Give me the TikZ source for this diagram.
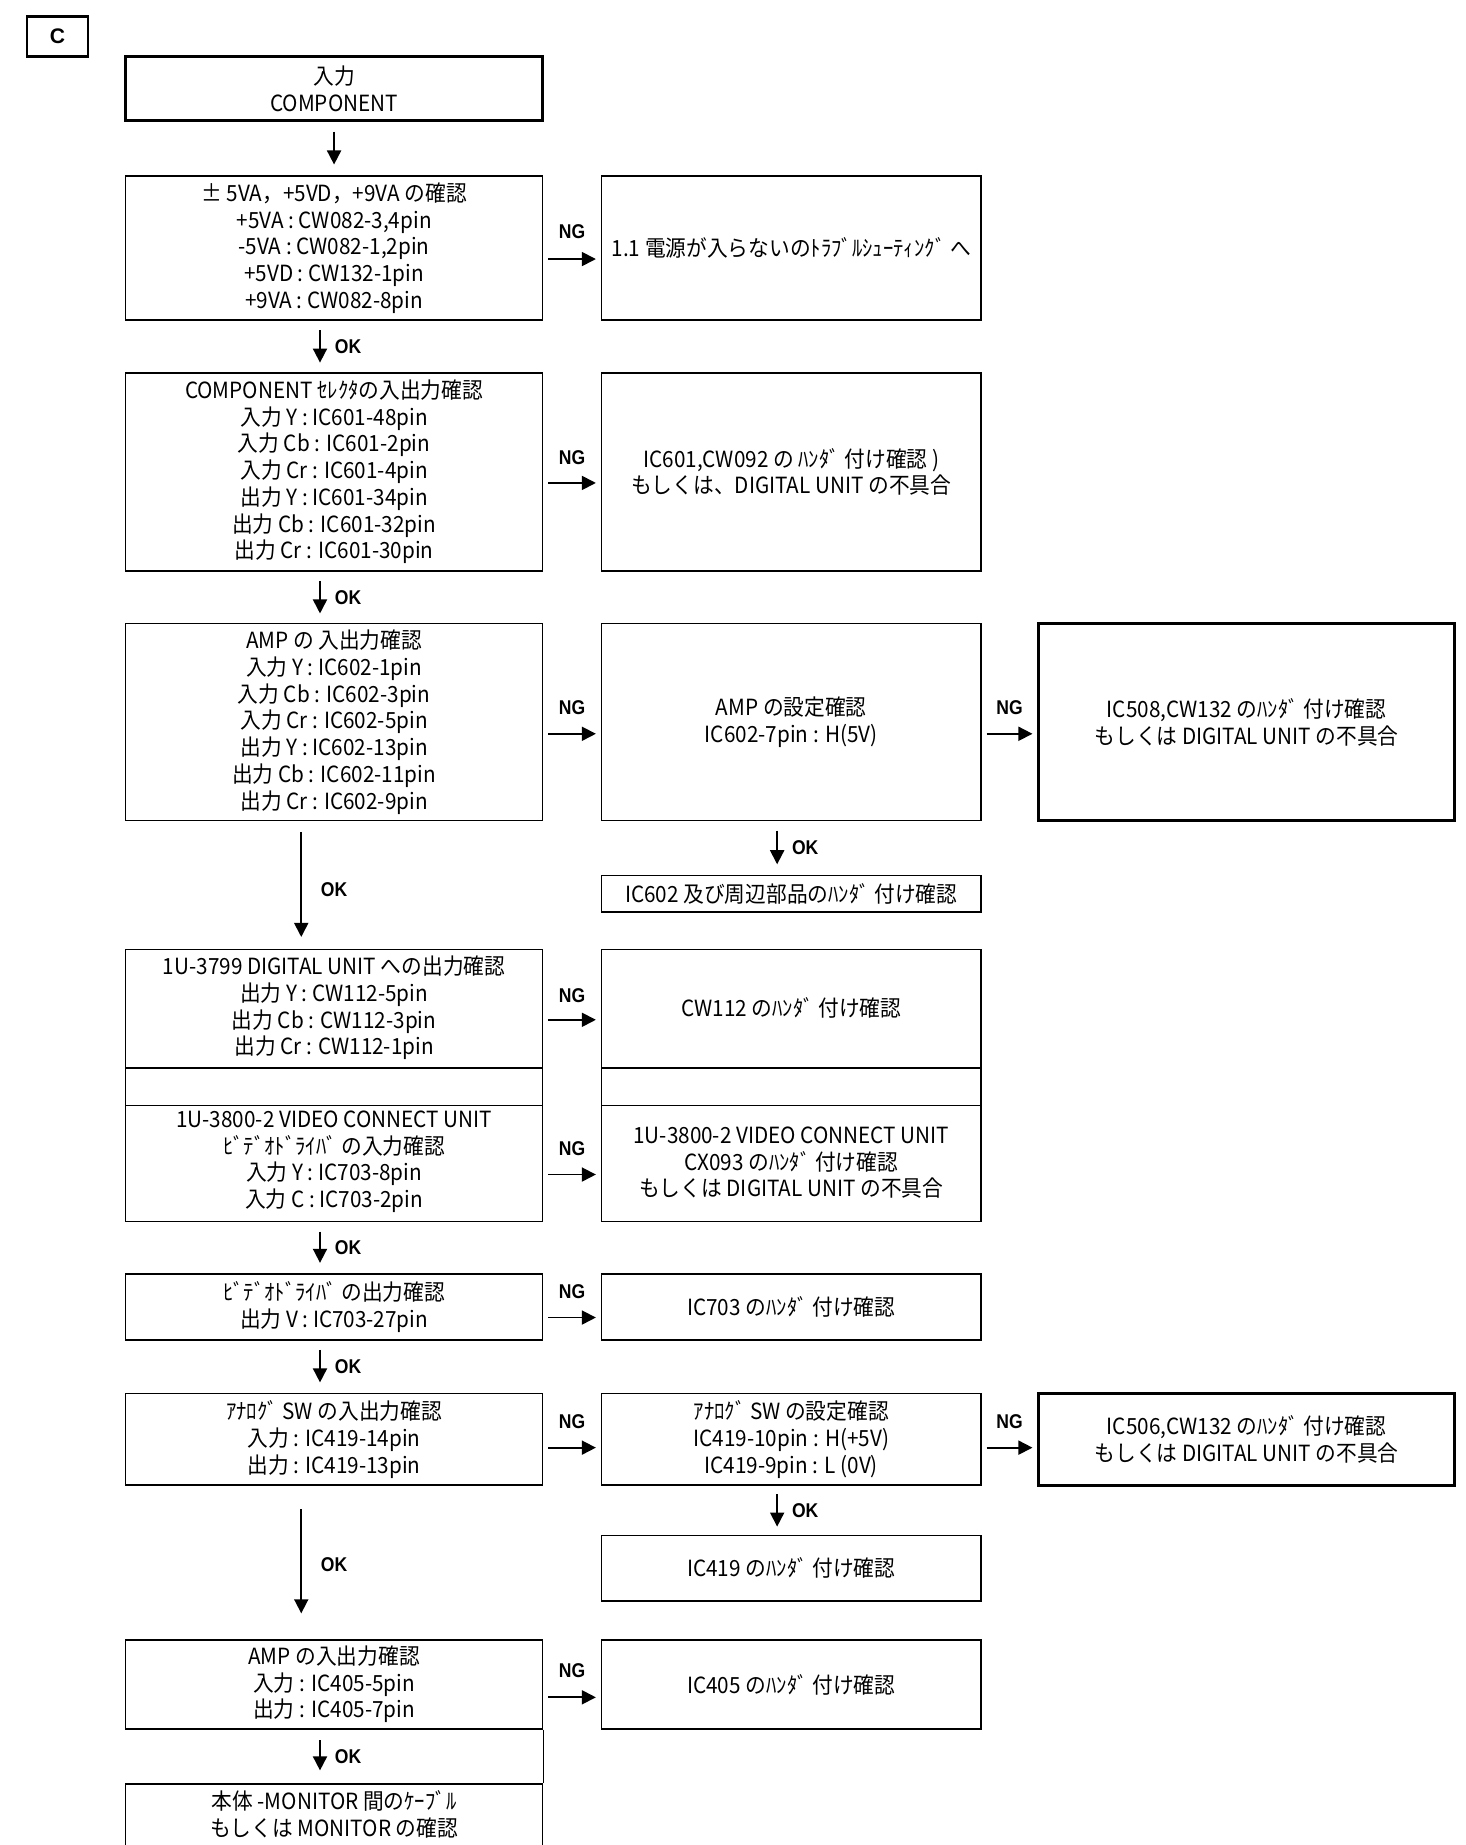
\documentclass[tikz,border=0pt]{standalone}
\usepackage{fontspec}
\setmainfont{Noto Sans CJK JP}[FakeStretch=0.93]
\newfontfamily\lblfont{Liberation Sans}[FakeStretch=0.88]
\newfontfamily\tagfont{Liberation Sans}
\usetikzlibrary{arrows.meta}
\begin{document}
\begin{tikzpicture}[x=1pt,y=-1pt,
  box/.style={draw, line width=1.3pt, inner sep=0pt, align=center, font=\fontsize{19}{22.8}\selectfont},
  thickbox/.style={box, line width=2.4pt},
  txt/.style={inner sep=0pt, align=center, font=\fontsize{19}{22.8}\selectfont},
  arr/.style={line width=1.5pt, -{Triangle[width=12pt,length=12pt]}},
  lbl/.style={font=\lblfont\bfseries\fontsize{17}{19}\selectfont, inner sep=0pt},
  lcol/.style={minimum width=356pt},
  rcol/.style={minimum width=324pt},
  fcol/.style={minimum width=355pt},
]
\useasboundingbox (0,0) rectangle (1250,1574);
\clip (0,0) rectangle (1250,1574);

% tag
\node[draw, line width=2.2pt, minimum width=52pt, minimum height=34pt, inner sep=0pt,
  font=\tagfont\bfseries\fontsize{18}{20}\selectfont] (tag) at (49,31) {C};

% left column
\node[thickbox, lcol, minimum height=55pt] (b1) at (285,75.5) {入力\\COMPONENT};
\node[box, lcol, minimum height=123pt] (b2) at (285,211.5) {± 5VA，+5VD，+9VA の確認\\+5VA : CW082-3,4pin\\-5VA : CW082-1,2pin\\+5VD : CW132-1pin\\+9VA : CW082-8pin};
\node[box, lcol, minimum height=169pt] (b3) at (285,402.5) {COMPONENT ｾﾚｸﾀの入出力確認\\入力 Y : IC601-48pin\\入力 Cb : IC601-2pin\\入力 Cr : IC601-4pin\\出力 Y : IC601-34pin\\出力 Cb : IC601-32pin\\出力 Cr : IC601-30pin};
\node[box, lcol, minimum height=168pt] (b4) at (285,616) {AMP の 入出力確認\\入力 Y : IC602-1pin\\入力 Cb : IC602-3pin\\入力 Cr : IC602-5pin\\出力 Y : IC602-13pin\\出力 Cb : IC602-11pin\\出力 Cr : IC602-9pin};
\node[box, lcol, minimum height=232pt] (b5) at (285,926) {};
\draw[line width=1.3pt] (107,911) -- (463,911) (107,943) -- (463,943);
\node[txt] (b5a) at (285,860) {1U-3799 DIGITAL UNIT への出力確認\\出力 Y : CW112-5pin\\出力 Cb : CW112-3pin\\出力 Cr : CW112-1pin};
\node[txt] (b5b) at (285,991) {1U-3800-2 VIDEO CONNECT UNIT\\ﾋﾞﾃﾞｵﾄﾞﾗｲﾊﾞ の入力確認\\入力 Y : IC703-8pin\\入力 C : IC703-2pin};
\node[box, lcol, minimum height=56pt] (b6) at (285,1115) {ﾋﾞﾃﾞｵﾄﾞﾗｲﾊﾞ の出力確認\\出力 V : IC703-27pin};
\node[box, lcol, minimum height=78pt] (b7) at (285,1228) {ｱﾅﾛｸﾞ SW の入出力確認\\入力 : IC419-14pin\\出力 : IC419-13pin};
\node[box, lcol, minimum height=76pt] (b8) at (285,1437) {AMP の入出力確認\\入力 : IC405-5pin\\出力 : IC405-7pin};
\node[box, lcol, minimum height=88pt] (b9) at (285,1566) {};
\node[txt] (b9t) at (285,1548) {本体 -MONITOR 間のｹｰﾌﾞﾙ\\もしくは MONITOR の確認};
\draw[line width=1.3pt] (b8.south east) -- (b9.north east);

% right column
\node[box, rcol, minimum height=123pt] (b2r) at (675,211.5) {1.1 電源が入らないのﾄﾗﾌﾞﾙｼｭｰﾃｨﾝｸﾞ へ};
\node[box, rcol, minimum height=169pt] (b3r) at (675,402.5) {IC601,CW092 の ﾊﾝﾀﾞ 付け確認 )\\もしくは、DIGITAL UNIT の不具合};
\node[box, rcol, minimum height=168pt] (b4r) at (675,616) {AMP の設定確認\\IC602-7pin : H(5V)};
\node[box, rcol, minimum height=31pt] (b4r2) at (675,762.5) {IC602 及び周辺部品のﾊﾝﾀﾞ 付け確認};
\node[box, rcol, minimum height=232pt] (b5r) at (675,926) {};
\draw[line width=1.3pt] (513,911) -- (837,911) (513,943) -- (837,943);
\node[txt] (b5ra) at (675,860) {CW112 のﾊﾝﾀﾞ 付け確認};
\node[txt] (b5rb) at (675,992) {1U-3800-2 VIDEO CONNECT UNIT\\CX093 のﾊﾝﾀﾞ 付け確認\\もしくは DIGITAL UNIT の不具合};
\node[box, rcol, minimum height=56pt] (b6r) at (675,1115) {IC703 のﾊﾝﾀﾞ 付け確認};
\node[box, rcol, minimum height=78pt] (b7r) at (675,1228) {ｱﾅﾛｸﾞ SW の設定確認\\IC419-10pin : H(+5V)\\IC419-9pin : L (0V)};
\node[box, rcol, minimum height=56pt] (b7r2) at (675,1338) {IC419 のﾊﾝﾀﾞ 付け確認};
\node[box, rcol, minimum height=76pt] (b8r) at (675,1437) {IC405 のﾊﾝﾀﾞ 付け確認};

% far right column
\node[thickbox, fcol, minimum height=168pt] (b4rr) at (1063.5,616) {IC508,CW132 のﾊﾝﾀﾞ 付け確認\\もしくは DIGITAL UNIT の不具合};
\node[thickbox, fcol, minimum height=78pt] (b7rr) at (1063.5,1228) {IC506,CW132 のﾊﾝﾀﾞ 付け確認\\もしくは DIGITAL UNIT の不具合};

% NG arrows
\draw[arr, shorten <=4pt, shorten >=4pt] ([yshift=-9.5pt]b2.east) -- ([yshift=-9.5pt]b2r.west) node[lbl, midway, yshift=23pt] {NG};
\draw[arr, shorten <=4pt, shorten >=4pt] ([yshift=-9.5pt]b3.east) -- ([yshift=-9.5pt]b3r.west) node[lbl, midway, yshift=22pt] {NG};
\draw[arr, shorten <=4pt, shorten >=4pt] ([yshift=-10pt]b4.east) -- ([yshift=-10pt]b4r.west) node[lbl, midway, yshift=22pt] {NG};
\draw[arr, shorten <=4pt, shorten >=4pt] ([yshift=-10pt]b4r.east) -- ([yshift=-10pt]b4rr.west) node[lbl, midway, yshift=22pt] {NG};
\draw[arr, shorten <=4pt, shorten >=4pt] ([yshift=56pt]b5.east) -- ([yshift=56pt]b5r.west) node[lbl, midway, yshift=21pt] {NG};
\draw[arr, shorten <=4pt, shorten >=4pt] ([yshift=-76pt]b5.east) -- ([yshift=-76pt]b5r.west) node[lbl, midway, yshift=22pt] {NG};
\draw[arr, shorten <=4pt, shorten >=4pt] ([yshift=-9pt]b6.east) -- ([yshift=-9pt]b6r.west) node[lbl, midway, yshift=22pt] {NG};
\draw[arr, shorten <=4pt, shorten >=4pt] ([yshift=-7pt]b7.east) -- ([yshift=-7pt]b7r.west) node[lbl, midway, yshift=22pt] {NG};
\draw[arr, shorten <=4pt, shorten >=4pt] ([yshift=-7pt]b7r.east) -- ([yshift=-7pt]b7rr.west) node[lbl, midway, yshift=22pt] {NG};
\draw[arr, shorten <=4pt, shorten >=4pt] ([yshift=-11pt]b8.east) -- ([yshift=-11pt]b8r.west) node[lbl, midway, yshift=23pt] {NG};

% OK arrows
\draw[arr, shorten <=8pt, shorten >=9pt] (b1.south) -- (b2.north);
\draw[arr, shorten <=8pt, shorten >=8pt] ([xshift=-12pt]b2.south) -- ([xshift=-12pt]b3.north) node[lbl, midway, anchor=west, xshift=12pt] {OK};
\draw[arr, shorten <=8pt, shorten >=8pt] ([xshift=-12pt]b3.south) -- ([xshift=-12pt]b4.north) node[lbl, midway, anchor=west, xshift=12pt] {OK};
\draw[arr, shorten <=9pt, shorten >=10pt] ([xshift=-28pt]b4.south) -- ([xshift=-28pt]b5.north) node[lbl, midway, xshift=28pt, yshift=-4pt] {OK};
\draw[arr, shorten <=8pt, shorten >=9pt] ([xshift=-12pt]b4r.south) -- ([xshift=-12pt]b4r2.north) node[lbl, midway, anchor=west, xshift=12pt] {OK};
\draw[arr, shorten <=8pt, shorten >=9pt] ([xshift=-12pt]b5.south) -- ([xshift=-12pt]b6.north) node[lbl, midway, anchor=west, xshift=12pt] {OK};
\draw[arr, shorten <=8pt, shorten >=9pt] ([xshift=-12pt]b6.south) -- ([xshift=-12pt]b7.north) node[lbl, midway, anchor=west, xshift=12pt] {OK};
\draw[arr, shorten <=20pt, shorten >=22pt] ([xshift=-28pt]b7.south) -- ([xshift=-28pt]b8.north) node[lbl, midway, xshift=28pt, yshift=-2pt] {OK};
\draw[arr, shorten <=7pt, shorten >=7pt] ([xshift=-12pt]b7r.south) -- ([xshift=-12pt]b7r2.north) node[lbl, midway, anchor=west, xshift=12pt] {OK};
\draw[arr, shorten <=9pt, shorten >=11pt] ([xshift=-12pt]b8.south) -- ([xshift=-12pt]b9.north) node[lbl, midway, anchor=west, xshift=12pt] {OK};
\end{tikzpicture}
\end{document}
